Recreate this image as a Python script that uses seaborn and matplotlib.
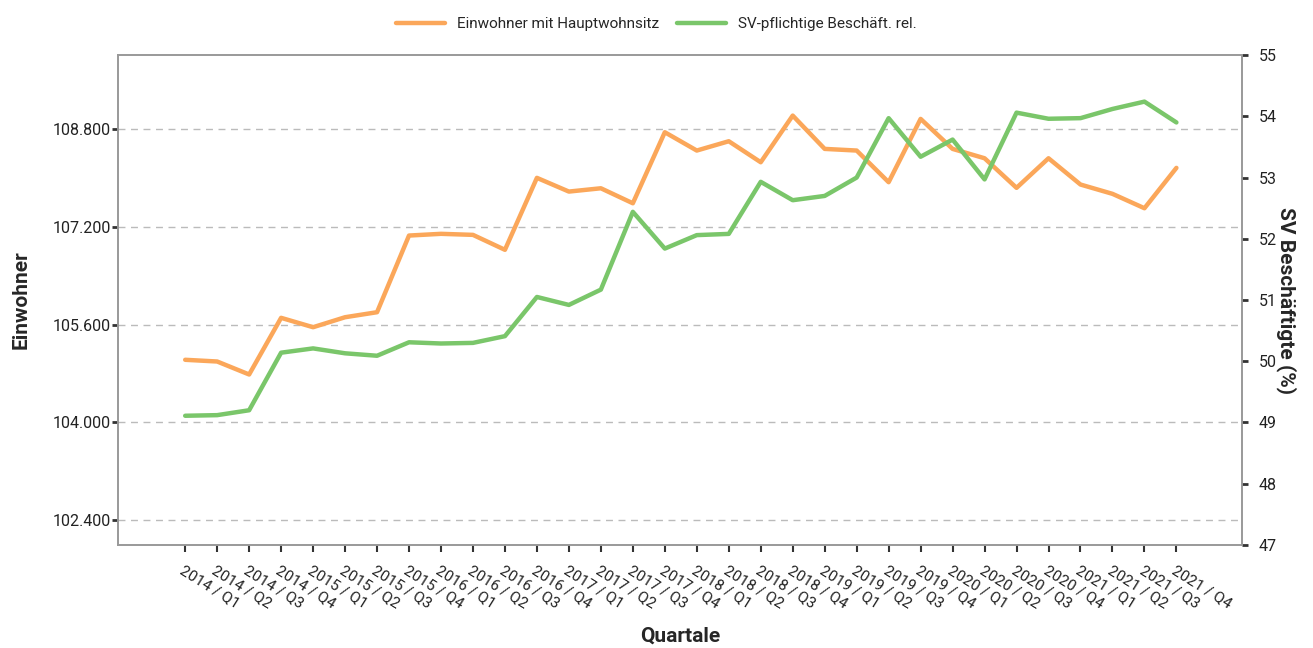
import numpy as np
import pandas as pd
import matplotlib
matplotlib.use("Agg")
import matplotlib.pyplot as plt
import matplotlib.ticker as mticker
import seaborn as sns

# ── Data ───────────────────────────────────────────────────────────────────
years = ["2014"] * 4 + ["2015"] * 4 + ["2016"] * 4 + ["2017"] * 4 + \
        ["2018"] * 4 + ["2019"] * 4 + ["2020"] * 4 + ["2021"] * 4
quarters = ["Q1", "Q2", "Q3", "Q4"] * 8
quartale = [f"{y} / {q}" for y, q in zip(years, quarters)]

einwohner = [105024, 104996, 104784, 105709, 105556, 105719, 105801, 107053,
             107081, 107064, 106820, 107995, 107771, 107825, 107580, 108740,
             108441, 108593, 108250, 109012, 108468, 108441, 107924, 108958,
             108468, 108315, 107832, 108315, 107886, 107734, 107499, 108158]

sv_rel = [49.11, 49.12, 49.20, 50.14, 50.21, 50.13, 50.09, 50.31,
          50.29, 50.30, 50.41, 51.05, 50.92, 51.17, 52.44, 51.84,
          52.06, 52.08, 52.93, 52.63, 52.70, 53.00, 53.97, 53.34,
          53.62, 52.97, 54.06, 53.96, 53.97, 54.12, 54.24, 53.90]

left_ticks = [102400, 104000, 105600, 107200, 108800]
right_ticks = [47, 48, 49, 50, 51, 52, 53, 54, 55]

df = pd.DataFrame({"pos": np.arange(len(quartale)),
                   "Einwohner": einwohner,
                   "SV": sv_rel})

ORANGE = "#FBA75A"
GREEN = "#7AC66A"

sns.set_theme(style="white")
plt.rcParams["font.family"] = ["Roboto", "DejaVu Sans"]

fig = plt.figure(figsize=(13.13, 6.48), dpi=100)
ax = fig.add_axes([0.0899, 0.159, 0.856, 0.756])
ax2 = ax.twinx()

sns.lineplot(data=df, x="pos", y="Einwohner", ax=ax, color=ORANGE,
             linewidth=3.2, label="Einwohner mit Hauptwohnsitz", legend=False)
sns.lineplot(data=df, x="pos", y="SV", ax=ax2, color=GREEN,
             linewidth=3.2, label="SV-pflichtige Beschäft. rel.", legend=False)

# ── Axes setup ─────────────────────────────────────────────────────────────
ax.set_xlim(-2.1, 33.05)
ax.set_ylim(102000, 110000)
ax2.set_ylim(47, 55)

ax.set_yticks(left_ticks)
ax.yaxis.set_major_formatter(
    mticker.FuncFormatter(lambda v, p: f"{int(v):,}".replace(",", ".")))
ax2.set_yticks(right_ticks)

ax.set_xticks(df["pos"])
ax.set_xticklabels(quartale, rotation=-32, ha="left", va="top",
                   rotation_mode="anchor", fontsize=11)

ax.grid(axis="y", color="#bbbbbb", linestyle=(0, (5, 4)), linewidth=1)
ax.set_axisbelow(True)

for a in (ax, ax2):
    for s in a.spines.values():
        s.set_color("#999999")
        s.set_linewidth(1.2)

ax.tick_params(axis="y", length=4, width=2, color="#333333", labelsize=11.5,
               labelcolor="#222222", pad=1)
ax.tick_params(axis="x", length=5, width=1.5, color="#333333",
               labelcolor="#222222", pad=8, bottom=True)
ax2.tick_params(axis="y", length=4, width=2, color="#333333", labelsize=11.5,
                labelcolor="#222222", pad=8)

ax.set_xlabel("Quartale", fontsize=15, fontweight="bold", labelpad=11)
ax.set_ylabel("Einwohner", fontsize=15, fontweight="bold", labelpad=16)
ax2.set_ylabel("SV Beschäftigte (%)", fontsize=15, fontweight="bold",
               rotation=-90, labelpad=14)

h1, l1 = ax.get_legend_handles_labels()
h2, l2 = ax2.get_legend_handles_labels()
fig.legend(h1 + h2, l1 + l2, loc="upper center", bbox_to_anchor=(0.5, 0.995),
           ncol=2, frameon=False, fontsize=11, handlelength=3.2,
           columnspacing=1.2)

fig.savefig("out.png", dpi=100)
